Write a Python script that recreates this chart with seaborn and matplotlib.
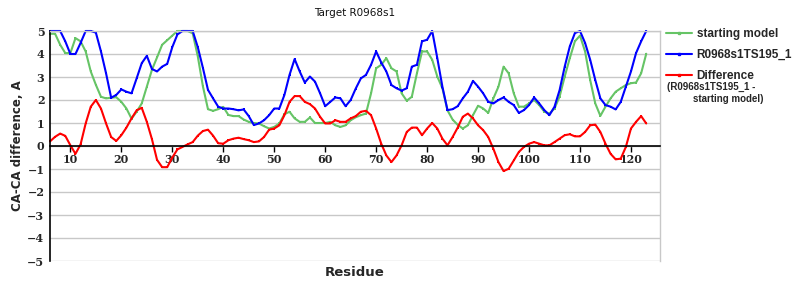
import matplotlib
matplotlib.use("Agg")
import matplotlib.pyplot as plt
import seaborn as sns
import pandas as pd
from matplotlib.lines import Line2D

residues = list(range(6, 124))

starting_model = [
    4.88, 4.88, 4.40, 4.04, 4.04, 4.69, 4.55, 4.11, 3.24, 2.66,   # 6-15
    2.14, 2.07, 2.10, 2.12, 1.92, 1.63, 1.19, 1.49, 1.85, 2.58,   # 16-25
    3.31, 3.85, 4.40, 4.60, 4.80, 5.00, 5.00, 5.00, 4.90, 3.90,   # 26-35
    2.60, 1.60, 1.53, 1.60, 1.70, 1.35, 1.30, 1.30, 1.15, 1.05,   # 36-45
    1.00, 0.98, 0.86, 0.76, 0.83, 0.98, 1.38, 1.49, 1.20, 1.05,   # 46-55
    1.05, 1.24, 1.00, 1.00, 1.00, 1.05, 0.90, 0.83, 0.90, 1.12,   # 56-65
    1.25, 1.34, 1.41, 2.29, 3.38, 3.53, 3.82, 3.38, 3.24, 2.29,   # 66-75
    1.97, 2.14, 3.16, 4.11, 4.11, 3.75, 3.02, 2.51, 1.55, 1.15,   # 76-85
    0.92, 0.76, 0.90, 1.34, 1.75, 1.63, 1.44, 2.07, 2.58, 3.45,   # 86-95
    3.16, 2.29, 1.71, 1.71, 1.85, 2.00, 1.78, 1.49, 1.41, 1.63,   # 96-105
    2.15, 3.02, 3.82, 4.55, 4.80, 4.11, 2.87, 1.85, 1.31, 1.71,   # 106-115
    2.07, 2.36, 2.51, 2.65, 2.73, 2.76, 3.16, 4.01,               # 116-123
]

model_195_1 = [
    5.00, 5.00, 5.00, 4.55, 4.00, 4.00, 4.48, 5.00, 5.00, 4.93,   # 6-15
    4.11, 3.16, 2.10, 2.22, 2.46, 2.36, 2.29, 2.94, 3.60, 3.92,   # 16-25
    3.35, 3.24, 3.45, 3.57, 4.30, 4.85, 5.00, 5.00, 5.00, 4.30,   # 26-35
    3.40, 2.44, 2.07, 1.71, 1.63, 1.63, 1.60, 1.55, 1.59, 1.30,   # 36-45
    0.91, 0.98, 1.12, 1.34, 1.63, 1.63, 2.22, 3.09, 3.78, 3.24,   # 46-55
    2.76, 3.02, 2.80, 2.29, 1.73, 1.92, 2.11, 2.07, 1.73, 2.00,   # 56-65
    2.50, 2.94, 3.09, 3.53, 4.11, 3.63, 3.24, 2.65, 2.51, 2.41,   # 66-75
    2.51, 3.45, 3.53, 4.55, 4.62, 5.00, 3.82, 2.58, 1.56, 1.60,   # 76-85
    1.73, 2.07, 2.36, 2.83, 2.58, 2.29, 1.92, 1.85, 2.00, 2.11,   # 86-95
    1.92, 1.78, 1.44, 1.56, 1.78, 2.11, 1.85, 1.56, 1.34, 1.71,   # 96-105
    2.43, 3.45, 4.33, 4.91, 5.00, 4.48, 3.75, 2.87, 2.07, 1.78,   # 106-115
    1.71, 1.59, 1.92, 2.58, 3.24, 4.04, 4.55, 5.00,               # 116-123
]

difference = [
    0.20, 0.40, 0.54, 0.44, 0.03, -0.34, 0.07, 0.98, 1.71, 2.00,  # 6-15
    1.63, 0.98, 0.39, 0.22, 0.47, 0.80, 1.20, 1.55, 1.66, 1.05,   # 16-25
    0.30, -0.60, -0.92, -0.92, -0.50, -0.15, -0.04, 0.07, 0.17, 0.45,  # 26-35
    0.65, 0.71, 0.45, 0.12, 0.10, 0.25, 0.32, 0.36, 0.30, 0.25,   # 36-45
    0.17, 0.20, 0.39, 0.71, 0.76, 0.90, 1.34, 1.92, 2.17, 2.17,   # 46-55
    1.92, 1.82, 1.63, 1.27, 0.98, 0.98, 1.12, 1.05, 1.05, 1.20,   # 56-65
    1.30, 1.49, 1.53, 1.34, 0.76, 0.10, -0.41, -0.70, -0.41, 0.03,  # 66-75
    0.61, 0.80, 0.80, 0.47, 0.76, 1.00, 0.76, 0.32, 0.03, 0.39,   # 76-85
    0.80, 1.27, 1.41, 1.20, 0.90, 0.69, 0.39, -0.12, -0.70, -1.09,  # 86-95
    -0.99, -0.63, -0.26, -0.04, 0.10, 0.17, 0.10, 0.03, 0.03, 0.17,  # 96-105
    0.32, 0.47, 0.51, 0.42, 0.42, 0.61, 0.90, 0.93, 0.61, 0.10,   # 106-115
    -0.34, -0.58, -0.55, -0.04, 0.76, 1.05, 1.30, 0.98,           # 116-123
]

y_ticks = [-5, -4, -3, -2, -1, 0, 1, 2, 3, 4, 5]
x_ticks = [10, 20, 30, 40, 50, 60, 70, 80, 90, 100, 110, 120]

series_labels = ["starting model", "R0968s1TS195_1", "Difference"]
series_colors = ["#66c466", "#0000ff", "#ff0000"]

df = pd.DataFrame({
    "residue": residues,
    "starting model": starting_model,
    "R0968s1TS195_1": model_195_1,
    "Difference": difference,
})

sns.set_theme(style="white")
plt.rcParams["font.family"] = ["DejaVu Sans"]

fig = plt.figure(figsize=(8, 3), dpi=100)
ax = fig.add_axes([50 / 800, 1 - 261 / 300, 610 / 800, 230 / 300])

for name, color in zip(series_labels, series_colors):
    sns.lineplot(data=df, x="residue", y=name, ax=ax, color=color,
                 linewidth=1.5, marker="s", markersize=2.0,
                 markeredgewidth=0, clip_on=False, legend=False)

ax.set_xlim(6, 125.7)
ax.set_ylim(-5, 5)
ax.set_yticks(y_ticks)
ax.set_xticks(x_ticks)
ax.grid(axis="y", color="#c8c8c8", linewidth=1.0)
ax.grid(axis="x", visible=False)
ax.set_axisbelow(True)

ax.spines["bottom"].set_position(("data", 0))
ax.spines["bottom"].set_color("black")
ax.spines["bottom"].set_linewidth(1.2)
ax.spines["left"].set_color("black")
ax.spines["left"].set_linewidth(1.2)
ax.spines["top"].set_color("#c8c8c8")
ax.spines["right"].set_color("#c8c8c8")
ax.spines["top"].set_linewidth(1.0)
ax.spines["right"].set_linewidth(1.0)

ax.tick_params(axis="x", direction="out", length=4, width=1, color="black", pad=2,
               bottom=True)
ax.tick_params(axis="y", length=0, pad=4, left=False)
for lab in ax.get_xticklabels() + ax.get_yticklabels():
    lab.set_fontfamily("DejaVu Serif")
    lab.set_fontweight("bold")
    lab.set_fontsize(8)

ax.set_xlabel("Residue", fontsize=9.5, fontweight="bold", labelpad=0)
ax.xaxis.set_label_coords(0.5, -0.02)
ax.set_ylabel("CA-CA difference, A", fontsize=8.5, fontweight="bold")
ax.yaxis.set_label_coords(-0.043, 0.5)
ax.set_title("Target R0968s1", fontsize=7.5, pad=11, color="#111111")

handles = [Line2D([0], [0], color=c, linewidth=1.5, marker="s", markersize=2.0)
           for c in series_colors]
fig.legend(handles, series_labels, loc="upper left",
           bbox_to_anchor=(666 / 800, 1 - 28 / 300), frameon=False,
           prop={"family": "Liberation Sans", "weight": "bold", "size": 8.5},
           handlelength=2.2, handletextpad=0.4, labelspacing=0.75,
           borderpad=0, borderaxespad=0)
fig.text(667 / 800, 1 - 87 / 300, "(R0968s1TS195_1 -", fontsize=7,
         fontweight="bold", family="Liberation Sans", va="center", ha="left")
fig.text(693 / 800, 1 - 99 / 300, "starting model)", fontsize=7,
         fontweight="bold", family="Liberation Sans", va="center", ha="left")

fig.savefig("out.png", dpi=100)
